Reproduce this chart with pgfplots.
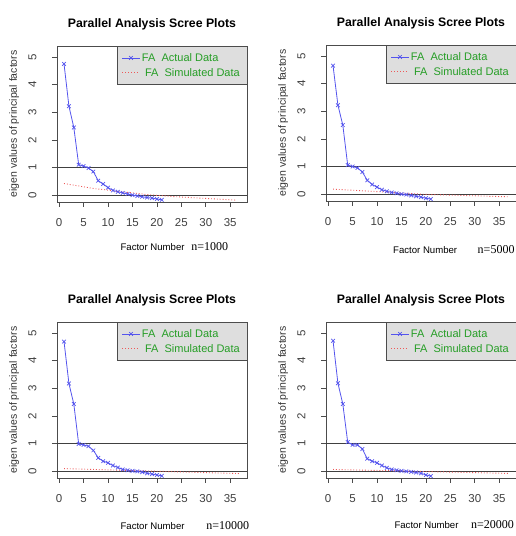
\documentclass[border=0pt]{standalone}
\usepackage{fontspec}
\setmainfont{Liberation Sans}
\newfontfamily\seriffont{Liberation Serif}
\usepackage{pgfplots}
\pgfplotsset{compat=1.18}
\definecolor{actblue}{rgb}{0.33,0.33,0.93}
\definecolor{simred}{rgb}{0.93,0.35,0.35}
\definecolor{legtext}{rgb}{0.15,0.62,0.15}

\pgfplotsset{
  scree/.style={
    scale only axis, width=190pt, height=156pt, clip=false,
    xmin=-0.44, xmax=38.44, ymin=-0.25, ymax=5.4,
    xtick={0,5,...,35}, ytick={0,...,5},
    tick align=outside, tick pos=left, major tick length=5pt,
    axis line style={black!70, line width=0.8pt},
    tick style={black!70, line width=0.6pt},
    tick label style={font=\fontsize{11.5}{13}\selectfont, text=black!75},
    xticklabel shift=8pt, yticklabel shift=12pt,
    yticklabel style={rotate=90},
    /pgf/number format/assume math mode=true,
    title={Parallel Analysis Scree Plots},
    title style={font=\bfseries\fontsize{12.3}{14}\selectfont,
      at={(axis description cs:0.5,1.098)}, anchor=center},
    ylabel={eigen values of principal factors},
    ylabel style={font=\fontsize{10.5}{12}\selectfont, text=black!80,
      at={(axis description cs:-0.226,0.5)}, anchor=center},
    legend style={at={(1,1)}, anchor=north east, fill=black!13, draw=black!70,
      font=\fontsize{11}{13}\selectfont, text=legtext,
      inner xsep=5pt, inner ysep=5pt, row sep=1.5pt},
    legend cell align=left,
  },
  act/.style={actblue, line width=0.8pt, mark=x, mark size=2.6pt,
    mark options={solid, line width=0.7pt}},
  sim/.style={simred, line width=0.9pt, dotted},
  ref/.style={forget plot, black!75, line width=0.8pt},
}
\tikzset{
  fn/.style={anchor=west, font=\fontsize{9.6}{11}\selectfont},
  nn/.style={anchor=west, font=\seriffont\fontsize{12}{14}\selectfont},
}

\begin{document}
\begin{tikzpicture}
\useasboundingbox (0,0) rectangle (516pt,536pt);

% ---------- n = 1000 ----------
\begin{axis}[scree, at={(57pt,334pt)}, anchor=south west]
\addplot[ref] coordinates {(-0.44,1) (38.44,1)};
\addplot[ref] coordinates {(-0.44,0) (38.44,0)};
\addplot[act] coordinates {
  (1,4.75) (2,3.22) (3,2.45) (4,1.10) (5,1.05) (6,0.98) (7,0.85) (8,0.52)
  (9,0.40) (10,0.27) (11,0.17) (12,0.12) (13,0.08) (14,0.04) (15,0.00)
  (16,-0.03) (17,-0.06) (18,-0.09) (19,-0.11) (20,-0.14) (21,-0.17)
};
\addplot[sim] coordinates {
  (1,0.42) (2,0.39) (3,0.36) (4,0.33) (5,0.30) (6,0.27) (7,0.24) (8,0.22)
  (9,0.20) (10,0.18) (11,0.16) (12,0.14) (13,0.12) (14,0.10) (15,0.08)
  (16,0.06) (17,0.04) (18,0.02) (19,0.01) (20,-0.01) (21,-0.02) (22,-0.03)
  (23,-0.05) (24,-0.06) (25,-0.07) (26,-0.08) (27,-0.09) (28,-0.10)
  (29,-0.11) (30,-0.12) (31,-0.13) (32,-0.14) (33,-0.15) (34,-0.16)
  (35,-0.17) (36,-0.18)
};
\legend{FA\ \ Actual Data, \ FA\ \ Simulated Data}
\node[fn] at (axis description cs:0.316,-0.288) {Factor Number};
\node[nn] at (axis description cs:0.689,-0.288) {n=1000};
\end{axis}

% ---------- n = 5000 ----------
\begin{axis}[scree, at={(326pt,335pt)}, anchor=south west]
\addplot[ref] coordinates {(-0.44,1) (38.44,1)};
\addplot[ref] coordinates {(-0.44,0) (38.44,0)};
\addplot[act] coordinates {
  (1,4.65) (2,3.22) (3,2.50) (4,1.05) (5,1.00) (6,0.95) (7,0.80) (8,0.50)
  (9,0.35) (10,0.25) (11,0.16) (12,0.10) (13,0.06) (14,0.03) (15,0.00)
  (16,-0.02) (17,-0.05) (18,-0.08) (19,-0.11) (20,-0.15) (21,-0.18)
};
\addplot[sim] coordinates {
  (1,0.18) (2,0.17) (3,0.16) (4,0.15) (5,0.14) (6,0.13) (7,0.12) (8,0.11)
  (9,0.10) (10,0.09) (11,0.08) (12,0.07) (13,0.06) (14,0.05) (15,0.04)
  (16,0.03) (17,0.02) (18,0.01) (19,0.00) (20,-0.01) (21,-0.02) (22,-0.02)
  (23,-0.03) (24,-0.03) (25,-0.04) (26,-0.04) (27,-0.05) (28,-0.05)
  (29,-0.06) (30,-0.06) (31,-0.07) (32,-0.07) (33,-0.08) (34,-0.08)
  (35,-0.09) (36,-0.09) (37,-0.10)
};
\legend{FA\ \ Actual Data, \ FA\ \ Simulated Data}
\node[fn] at (axis description cs:0.335,-0.314) {Factor Number};
\node[nn] at (axis description cs:0.78,-0.314) {n=5000};
\end{axis}

% ---------- n = 10000 ----------
\begin{axis}[scree, at={(57pt,58pt)}, anchor=south west]
\addplot[ref] coordinates {(-0.44,1) (38.44,1)};
\addplot[ref] coordinates {(-0.44,0) (38.44,0)};
\addplot[act] coordinates {
  (1,4.69) (2,3.17) (3,2.43) (4,0.98) (5,0.95) (6,0.90) (7,0.75) (8,0.48)
  (9,0.36) (10,0.30) (11,0.20) (12,0.13) (13,0.06) (14,0.03) (15,0.01)
  (16,-0.01) (17,-0.04) (18,-0.08) (19,-0.11) (20,-0.14) (21,-0.17)
};
\addplot[sim] coordinates {
  (1,0.09) (2,0.085) (3,0.08) (4,0.075) (5,0.07) (6,0.065) (7,0.06) (8,0.055)
  (9,0.05) (10,0.045) (11,0.04) (12,0.035) (13,0.03) (14,0.025) (15,0.02)
  (16,0.015) (17,0.01) (18,0.005) (19,0.00) (20,-0.005) (21,-0.01) (22,-0.015)
  (23,-0.02) (24,-0.025) (25,-0.03) (26,-0.035) (27,-0.04) (28,-0.045)
  (29,-0.05) (30,-0.055) (31,-0.06) (32,-0.065) (33,-0.07) (34,-0.075)
  (35,-0.08) (36,-0.085) (37,-0.09)
};
\legend{FA\ \ Actual Data, \ FA\ \ Simulated Data}
\node[fn] at (axis description cs:0.316,-0.306) {Factor Number};
\node[nn] at (axis description cs:0.768,-0.306) {n=10000};
\end{axis}

% ---------- n = 20000 ----------
\begin{axis}[scree, at={(326pt,58pt)}, anchor=south west]
\addplot[ref] coordinates {(-0.44,1) (38.44,1)};
\addplot[ref] coordinates {(-0.44,0) (38.44,0)};
\addplot[act] coordinates {
  (1,4.72) (2,3.18) (3,2.43) (4,1.05) (5,0.95) (6,0.95) (7,0.80) (8,0.45)
  (9,0.36) (10,0.30) (11,0.20) (12,0.12) (13,0.06) (14,0.03) (15,0.01)
  (16,-0.01) (17,-0.03) (18,-0.05) (19,-0.08) (20,-0.14) (21,-0.18)
};
\addplot[sim] coordinates {
  (1,0.06) (2,0.056) (3,0.052) (4,0.048) (5,0.044) (6,0.04) (7,0.036) (8,0.032)
  (9,0.028) (10,0.024) (11,0.02) (12,0.016) (13,0.012) (14,0.008) (15,0.004)
  (16,0.00) (17,-0.004) (18,-0.008) (19,-0.012) (20,-0.016) (21,-0.02)
  (22,-0.024) (23,-0.028) (24,-0.032) (25,-0.036) (26,-0.04) (27,-0.044)
  (28,-0.048) (29,-0.052) (30,-0.056) (31,-0.06) (32,-0.064) (33,-0.068)
  (34,-0.072) (35,-0.076) (36,-0.08) (37,-0.084)
};
\legend{FA\ \ Actual Data, \ FA\ \ Simulated Data}
\node[fn] at (axis description cs:0.342,-0.30) {Factor Number};
\node[nn] at (axis description cs:0.745,-0.30) {n=20000};
\end{axis}
\end{tikzpicture}
\end{document}
